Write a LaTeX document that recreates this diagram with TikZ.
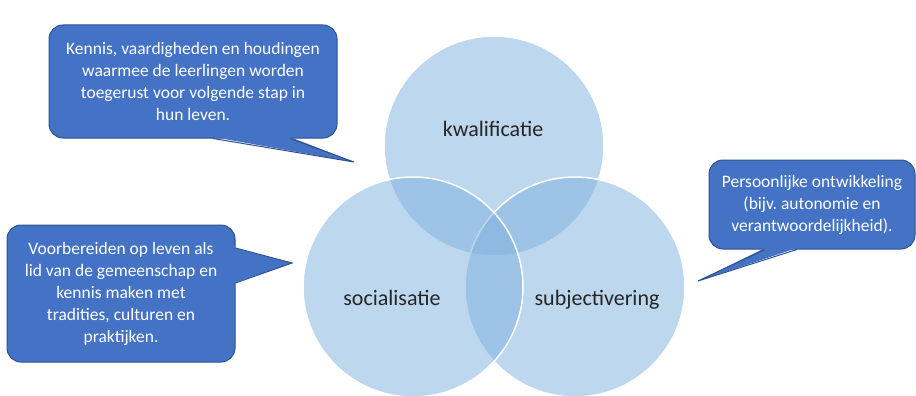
\documentclass[tikz,border=0pt]{standalone}
\usepackage{fontspec}
\setmainfont{Carlito}
\usetikzlibrary{calc}
\definecolor{calloutblue}{RGB}{68,114,196}
\definecolor{calloutedge}{RGB}{47,82,143}
\definecolor{vennblue}{RGB}{128,178,222}
\definecolor{labelgray}{RGB}{38,38,38}
\frenchspacing

\begin{document}
\begin{tikzpicture}[x=1pt,y=-1pt]
            \tikzset{ring/.style = {shape=circle, draw=white, line width=1.5pt, fill=vennblue, fill opacity=0.52, minimum size=220pt, inner sep=0pt}}
            \tikzset{ringlabel/.style = {text=labelgray, anchor=base, font=\fontsize{22}{26}\selectfont}}
            \tikzset{callout/.style = {shape=rectangle, rounded corners=14pt, draw=calloutedge, line width=1pt, fill=calloutblue, text=white, align=center, inner sep=2pt, font=\fontsize{17.5}{22}\selectfont}}
            \tikzset{tailfill/.style = {fill=calloutblue}}
            \tikzset{tailedge/.style = {draw=calloutedge, line width=1pt}}
            \useasboundingbox (0,0) rectangle (916,396);
            % circles
            \node[ring] (top) at (494,146) {};
            \node[ring] (right) at (575,287) {};
            \node[ring] (left) at (413,287) {};
            \node[ringlabel] (kwal) at (493,136) {kwalificatie};
            \node[ringlabel] (soc) at (392,305) {socialisatie};
            \node[ringlabel] (subj) at (597,305) {subjectivering};
            % callouts
            \node[callout, minimum width=288pt, minimum height=113pt] (kennis) at (193,81.5)
                {Kennis, vaardigheden en houdingen\\waarmee de leerlingen worden\\toegerust voor volgende stap in\\hun leven.};
            \node[callout, minimum width=228pt, minimum height=137pt] (voorb) at (121,293.5)
                {Voorbereiden op leven als\\lid van de gemeenschap en\\kennis maken met\\tradities, culturen en\\praktijken.};
            \node[callout, minimum width=206pt, minimum height=89pt] (persoon) at (812,204.5)
                {Persoonlijke ontwikkeling\\(bijv. autonomie en\\verantwoordelijkheid).};
            % tails
            \coordinate (kennistip) at (354,162);
            \coordinate (voorbtip) at (292,263);
            \coordinate (persoontip) at (698,281);
            \fill[tailfill] ($(kennis.south)+(20,-1.5)$) -- (kennistip) -- ($(kennis.south)+(97,-1.5)$) -- cycle;
            \draw[tailedge] ($(kennis.south)+(20,0)$) -- (kennistip) -- ($(kennis.south)+(97,0)$);
            \fill[tailfill] ($(voorb.east)+(-1.5,-45.5)$) -- (voorbtip) -- ($(voorb.east)+(-1.5,-10.5)$) -- cycle;
            \draw[tailedge] ($(voorb.east)+(0,-45.5)$) -- (voorbtip) -- ($(voorb.east)+(0,-10.5)$);
            \fill[tailfill] ($(persoon.south)+(-47,-1.5)$) -- (persoontip) -- ($(persoon.south)+(-15,-1.5)$) -- cycle;
            \draw[tailedge] ($(persoon.south)+(-47,0)$) -- (persoontip) -- ($(persoon.south)+(-15,0)$);
        \end{tikzpicture}
\end{document}
